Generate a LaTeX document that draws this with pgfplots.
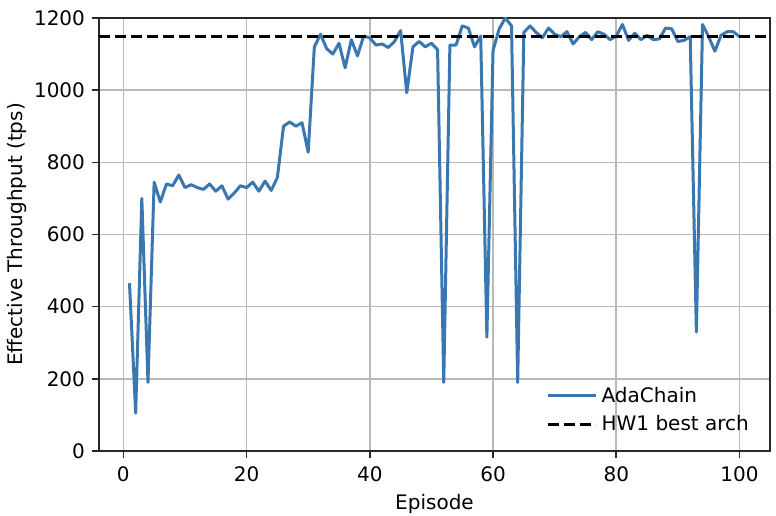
\documentclass[border=0pt]{standalone}
\usepackage{fontspec}
\setmainfont{DejaVu Sans}
\usepackage{pgfplots}
\pgfplotsset{compat=1.18}

\definecolor{adablue}{RGB}{58,118,175}
\definecolor{gridgray}{RGB}{185,185,185}
\definecolor{spine}{RGB}{40,40,40}

\pgfplotstableread{
ep val
1 465
2 105
3 700
4 190
5 745
6 690
7 740
8 735
9 765
10 730
11 738
12 730
13 725
14 740
15 720
16 735
17 698
18 715
19 735
20 730
21 745
22 720
23 748
24 722
25 758
26 900
27 912
28 900
29 910
30 828
31 1120
32 1155
33 1115
34 1100
35 1130
36 1062
37 1140
38 1095
39 1150
40 1145
41 1125
42 1128
43 1118
44 1135
45 1165
46 993
47 1120
48 1135
49 1120
50 1130
51 1112
52 190
53 1125
54 1125
55 1178
56 1172
57 1120
58 1150
59 315
60 1110
61 1170
62 1200
63 1178
64 190
65 1160
66 1178
67 1160
68 1145
69 1172
70 1155
71 1148
72 1162
73 1128
74 1148
75 1160
76 1140
77 1162
78 1155
79 1140
80 1150
81 1182
82 1138
83 1158
84 1140
85 1152
86 1140
87 1142
88 1172
89 1170
90 1135
91 1138
92 1148
93 330
94 1182
95 1148
96 1108
97 1152
98 1162
99 1162
100 1148
}\adachain

\begin{document}
\begin{tikzpicture}
\begin{axis}[
    name=ax,
    scale only axis,
    width=335.5pt, height=216.5pt,
    xmin=-3.95, xmax=104.95, ymin=0, ymax=1200,
    xtick={0,20,...,100},
    ytick={0,200,...,1200},
    xlabel={Episode},
    ylabel={Effective Throughput (tps)},
    grid=major,
    grid style={gridgray, line width=0.8pt},
    axis line style={spine, line width=0.8pt},
    tick style={spine, line width=0.8pt},
    major tick length=3.5pt,
    tick align=outside,
    xtick pos=bottom, ytick pos=left,
    /pgf/number format/assume math mode=true,
    /pgf/number format/1000 sep={},
    font=\fontsize{10}{12}\selectfont,
    ticklabel style={font=\fontsize{10}{12}\selectfont},
    xticklabel style={yshift=-1pt},
    every axis x label/.style={at={(axis description cs:0.5,-0.122)}, anchor=center},
    every axis y label/.style={at={(axis description cs:-0.122,0.5)}, rotate=90, anchor=center},
    legend style={at={(0.984,0.0215)}, anchor=south east, draw=none, fill=none,
        font=\fontsize{10}{12}\selectfont, row sep=1pt},
    legend cell align=left,
    legend image code/.code={\draw[#1] (0pt,0pt) -- (20pt,0pt); \path (0pt,0pt) -- (24pt,0pt);},
  ]
  \addplot[adablue, line width=1.5pt, line join=round] table[x=ep, y=val] {\adachain};
  \addlegendentry{AdaChain}
  \addplot[black, line width=1.5pt, dash pattern=on 5.5pt off 2.5pt] coordinates {(-3.95,1150) (104.95,1150)};
  \addlegendentry{HW1 best arch}
\end{axis}
\pgfresetboundingbox
\path ([shift={(-49.5pt,-32.5pt)}]ax.south west) rectangle ([shift={(3pt,9pt)}]ax.north east);
\end{tikzpicture}
\end{document}
